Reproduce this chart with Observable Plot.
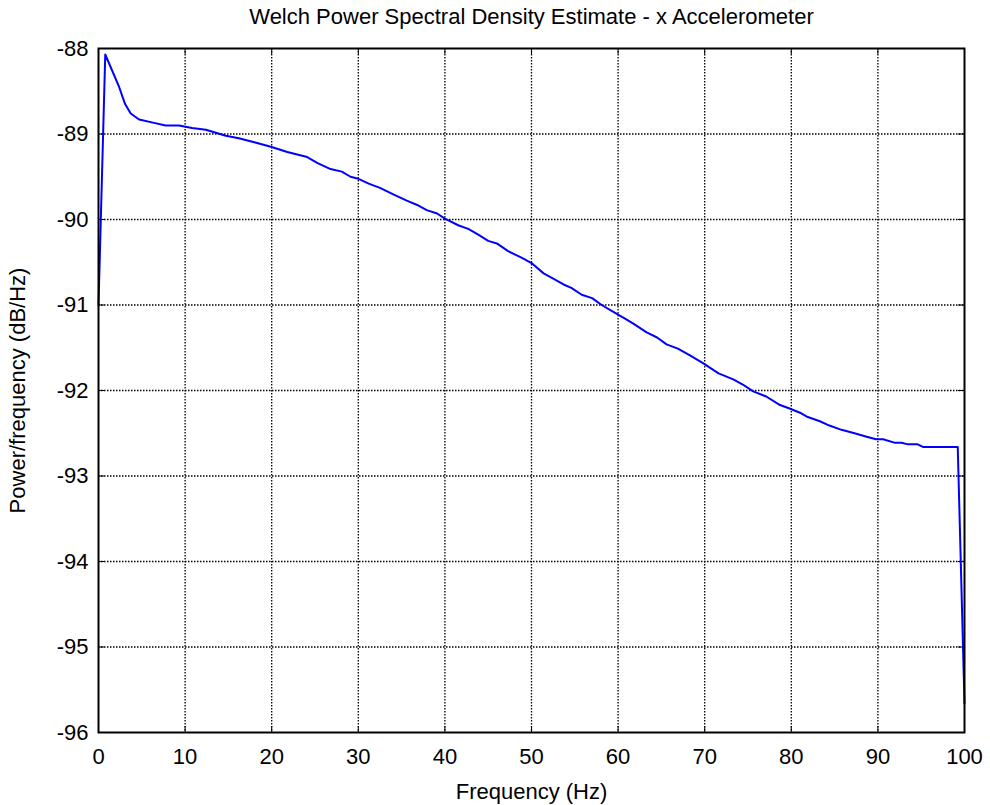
<!DOCTYPE html>
<html>
<head>
<meta charset="utf-8">
<script src="https://cdn.jsdelivr.net/npm/d3@7"></script>
<script src="https://cdn.jsdelivr.net/npm/@observablehq/plot@0.6"></script>
<style>
  html, body { margin: 0; padding: 0; background: #fff; }
  #chart svg { display: block; }
</style>
</head>
<body>
<div id="chart"></div>
<script>
const titleText = "Welch Power Spectral Density Estimate - x Accelerometer";
const xLabel = "Frequency (Hz)";
const yLabel = "Power/frequency (dB/Hz)";
const xTicks = [0, 10, 20, 30, 40, 50, 60, 70, 80, 90, 100];
const yTicks = [-96, -95, -94, -93, -92, -91, -90, -89, -88];

const freq = [0, 0.78, 2.38, 3.07, 3.72, 4.69, 6.41, 7.76, 9.3, 10.8, 12.4, 14.7, 16.2, 18.1, 19.9,
  21.8, 24.1, 25.3, 26.8, 28.1, 29.1, 29.9, 31.2, 32.5, 34.1, 35.6, 36.8, 37.9, 39.1, 40.0,
  41.6, 42.7, 43.9, 45.0, 46.0, 47.3, 48.9, 50.0, 51.4, 52.3, 53.7, 54.6, 55.8, 57.0, 58.1,
  59.6, 60.8, 61.8, 63.3, 64.5, 65.6, 66.9, 68.3, 69.8, 71.6, 73.3, 74.4, 75.6, 77.1, 78.7,
  79.8, 81.0, 81.9, 83.3, 84.4, 85.8, 87.3, 88.7, 89.8, 90.6, 91.9, 92.7, 93.5, 94.6, 95.2,
  99.22, 100];
const psd = [-91.0, -88.07, -88.45, -88.65, -88.76, -88.83, -88.87, -88.90, -88.90, -88.93, -88.95, -89.02, -89.05, -89.10, -89.15,
  -89.21, -89.27, -89.34, -89.41, -89.44, -89.50, -89.52, -89.58, -89.63, -89.71, -89.78, -89.83, -89.89, -89.93, -89.99,
  -90.07, -90.11, -90.18, -90.25, -90.28, -90.37, -90.45, -90.51, -90.63, -90.68, -90.76, -90.80, -90.88, -90.92, -91.00,
  -91.09, -91.16, -91.22, -91.32, -91.38, -91.46, -91.51, -91.59, -91.68, -91.80, -91.87, -91.93, -92.01, -92.07, -92.17,
  -92.21, -92.26, -92.31, -92.36, -92.41, -92.46, -92.50, -92.54, -92.57, -92.57, -92.61, -92.61, -92.63, -92.63, -92.66,
  -92.66, -95.66];

const data = freq.map((f, i) => ({f, v: psd[i]}));

const W = 990, H = 805;
const mL = 98, mR = 26, mT = 48, mB = 73;
const frameH = H - mT - mB, frameW = W - mL - mR;
const tick = 6;
const fs = 22;
const font = "'Liberation Sans', Arial, Helvetica, sans-serif";

const chart = Plot.plot({
  width: W,
  height: H,
  marginLeft: mL,
  marginRight: mR,
  marginTop: mT,
  marginBottom: mB,
  style: {fontFamily: font, background: "#fff", color: "#000"},
  x: {domain: [0, 100]},
  y: {domain: [-96, -88]},
  marks: [
    // dotted grid
    Plot.ruleX(xTicks.slice(1, -1), {stroke: "#000", strokeWidth: 1.3, strokeDasharray: "1.5,1.5"}),
    Plot.ruleY(yTicks.slice(1, -1), {stroke: "#000", strokeWidth: 1.3, strokeDasharray: "1.5,1.5"}),
    // inward ticks (bottom/top/left/right)
    Plot.ruleX(xTicks, {stroke: "#000", strokeWidth: 1, insetTop: frameH - tick}),
    Plot.ruleX(xTicks, {stroke: "#000", strokeWidth: 1, insetBottom: frameH - tick}),
    Plot.ruleY(yTicks, {stroke: "#000", strokeWidth: 1, insetRight: frameW - tick}),
    Plot.ruleY(yTicks, {stroke: "#000", strokeWidth: 1, insetLeft: frameW - tick}),
    // data line
    Plot.line(data, {x: "f", y: "v", stroke: "#0000ff", strokeWidth: 2}),
    // frame
    Plot.frame({stroke: "#000", strokeWidth: 2}),
    // axes
    Plot.axisX(xTicks, {
      tickSize: 0, tickPadding: 16, fontSize: fs, tickFormat: d => String(d),
      label: xLabel, labelAnchor: "center", labelArrow: "none", labelOffset: 66
    }),
    Plot.axisY(yTicks, {
      tickSize: 0, tickPadding: 10, fontSize: fs, tickFormat: d => String(d),
      label: yLabel, labelAnchor: "center", labelArrow: "none", labelOffset: 89
    }),
    // title
    Plot.text([titleText], {
      text: d => d, frameAnchor: "top", dy: -32, fontSize: fs, fill: "#000", lineAnchor: "middle"
    })
  ]
});
document.getElementById("chart").appendChild(chart);
</script>
</body>
</html>
